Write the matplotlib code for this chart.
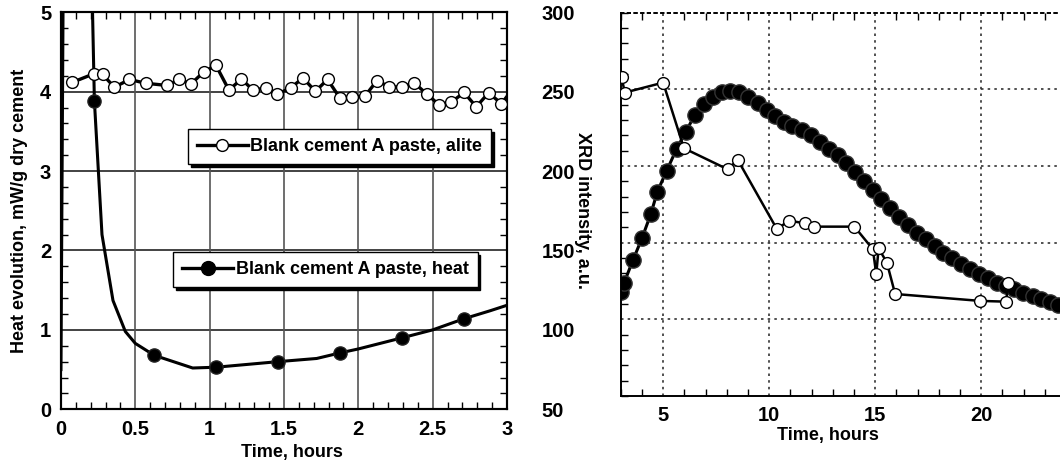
import matplotlib.pyplot as plt
from matplotlib.ticker import MultipleLocator, NullFormatter
from matplotlib.lines import Line2D

plt.rcParams['font.family'] = ['Liberation Sans', 'DejaVu Sans']
plt.rcParams['font.weight'] = 'bold'

# ---- left panel: first 3 hours ----
# heat evolution, mW/g (line points; markers only on some of them)
heat_t = [0.0, 0.02, 0.19, 0.225, 0.276, 0.35, 0.433, 0.5, 0.627, 0.886,
          1.044, 1.46, 1.72, 1.877, 2.0, 2.294, 2.5, 2.71, 2.885, 3.0]
heat_v = [0.5, 7.0, 7.0, 3.88, 2.2, 1.37, 0.98, 0.83, 0.68, 0.52,
          0.53, 0.60, 0.64, 0.71, 0.76, 0.90, 1.0, 1.14, 1.24, 1.31]
heat_marks = [3, 8, 10, 11, 13, 15, 17]

# alite XRD intensity, a.u.
alite_t = [0.074, 0.222, 0.28, 0.359, 0.461, 0.57, 0.715, 0.793, 0.876, 0.961,
           1.043, 1.13, 1.213, 1.293, 1.38, 1.456, 1.546, 1.628, 1.711, 1.793,
           1.876, 1.957, 2.043, 2.126, 2.209, 2.293, 2.376, 2.461, 2.543, 2.626,
           2.711, 2.793, 2.876, 2.963, 3.045]
alite_v = [255.8, 261.3, 260.9, 252.8, 257.7, 255.3, 253.9, 257.7, 255.0, 262.5,
           266.5, 251.0, 257.9, 251.0, 252.4, 248.5, 252.4, 258.7, 250.2, 257.7,
           246.0, 246.8, 247.0, 257.0, 253.0, 253.0, 255.5, 248.5, 241.7, 243.4,
           249.5, 240.5, 249.2, 242.5, 252.5]

# ---- right panel: 3 to 24 hours ----
heat2_t = [3.02, 3.15, 3.58, 4.0, 4.42, 4.73, 5.16, 5.63, 6.07, 6.5,
           6.94, 7.37, 7.76, 8.15, 8.58, 9.02, 9.46, 9.89, 10.28, 10.68,
           11.1, 11.55, 11.99, 12.41, 12.83, 13.23, 13.64, 14.06, 14.45, 14.89,
           15.28, 15.7, 16.13, 16.53, 16.95, 17.39, 17.81, 18.2, 18.64, 19.06,
           19.48, 19.89, 20.31, 20.73, 21.17, 21.56, 21.98, 22.42, 22.81, 23.23,
           23.64]
heat2_v = [1.36, 1.47, 1.774, 2.056, 2.374, 2.666, 2.934, 3.218, 3.448, 3.666,
           3.804, 3.904, 3.96, 3.982, 3.96, 3.904, 3.826, 3.73, 3.652, 3.578,
           3.52, 3.47, 3.404, 3.318, 3.22, 3.14, 3.04, 2.926, 2.808, 2.686,
           2.566, 2.448, 2.34, 2.23, 2.13, 2.044, 1.956, 1.87, 1.796, 1.722,
           1.652, 1.592, 1.534, 1.478, 1.434, 1.392, 1.348, 1.304, 1.266, 1.23,
           1.186]

alite2_t = [3.04, 3.19, 5.0, 5.98, 8.04, 8.52, 10.36, 10.95, 11.67, 12.13,
            14.02, 14.89, 15.05, 15.16, 15.55, 15.94, 19.95, 21.17, 21.28]
alite2_v = [257.8, 247.8, 254.3, 211.5, 197.8, 203.9, 158.9, 164.3, 162.6, 160.4,
            160.4, 145.7, 129.3, 146.3, 137.0, 116.5, 112.0, 111.5, 123.9]

label_heat = 'Blank cement A paste, heat'
label_alite = 'Blank cement A paste, alite'

fig = plt.figure(figsize=(10.6, 4.63), dpi=100)

# ================= left panel =================
ax = fig.add_axes([0.0575, 0.116, 0.4208, 0.8575])
axr = ax.twinx()

for y in [1, 2, 3, 4]:
    ax.axhline(y, color='#222222', lw=1.2, zorder=1)
for x in [0.5, 1, 1.5, 2, 2.5]:
    ax.axvline(x, color='#555555', lw=1.2, zorder=1)

ax.plot(heat_t, heat_v, color='black', lw=2.2, marker='o', ms=9.5,
        markevery=heat_marks, mfc='black', mec='#222222', zorder=3)
axr.plot(alite_t, alite_v, color='black', lw=2.4, marker='o', ms=8.5,
         mfc='white', mec='black', mew=1.0, zorder=3)

ax.set_xlim(0, 3)
ax.set_ylim(0, 5)
axr.set_ylim(50, 300)

ax.set_xticks([0, 0.5, 1, 1.5, 2, 2.5, 3])
ax.set_xticklabels(['0', '0.5', '1', '1.5', '2', '2.5', '3'])
ax.set_yticks([0, 1, 2, 3, 4, 5])
ax.xaxis.set_minor_locator(MultipleLocator(0.1))
ax.yaxis.set_minor_locator(MultipleLocator(0.2))
axr.set_yticks([50, 100, 150, 200, 250, 300])
axr.yaxis.set_minor_locator(MultipleLocator(10))

ax.tick_params(axis='both', which='both', direction='in', labelsize=14.5)
ax.tick_params(axis='x', which='both', top=True, pad=8)
ax.tick_params(axis='y', which='both', pad=7)
ax.tick_params(which='major', length=0)
ax.tick_params(which='minor', length=5, width=1)
axr.tick_params(axis='y', which='both', direction='in', labelsize=14.5, pad=25)
axr.tick_params(which='major', length=0)
axr.tick_params(which='minor', length=5, width=1)

for a in (ax, axr):
    for s in a.spines.values():
        s.set_linewidth(1.5)

ax.set_xlabel('Time, hours', fontsize=13, fontweight='bold')
ax.xaxis.set_label_coords(0.518, -0.108)
ax.xaxis.label.set_va('center')
ax.set_ylabel('Heat evolution, mW/g dry cement', fontsize=13, fontweight='bold')
ax.yaxis.set_label_coords(-0.092, 0.5)
ax.yaxis.label.set_va('center')
axr.set_ylabel('XRD intensity, a.u.', fontsize=13, fontweight='bold', rotation=270)
axr.yaxis.set_label_coords(1.17, 0.5)
axr.yaxis.label.set_va('center')

shadow = {'facecolor': 'black', 'edgecolor': 'black', 'alpha': 1}
h_alite = Line2D([], [], color='black', lw=2.4, marker='o', ms=8.5,
                 mfc='white', mec='black', mew=1.0)
h_heat = Line2D([], [], color='black', lw=2.4, marker='o', ms=10,
                mfc='black', mec='black')
leg1 = axr.legend([h_alite], [label_alite], loc='upper left',
                  bbox_to_anchor=(0.285, 0.706), borderaxespad=0,
                  fancybox=False, shadow=shadow, framealpha=1,
                  edgecolor='black', fontsize=13, handlelength=2.8,
                  handletextpad=0.15, borderpad=0.5, numpoints=1)
leg1.get_frame().set_linewidth(1.0)
axr.add_artist(leg1)
leg2 = axr.legend([h_heat], [label_heat], loc='upper left',
                  bbox_to_anchor=(0.252, 0.396), borderaxespad=0,
                  fancybox=False, shadow=shadow, framealpha=1,
                  edgecolor='black', fontsize=13, handlelength=2.8,
                  handletextpad=0.15, borderpad=0.5, numpoints=1)
leg2.get_frame().set_linewidth(1.0)
for leg in (leg1, leg2):
    for t in leg.get_texts():
        t.set_fontweight('bold')

# ================= right panel =================
bx = fig.add_axes([0.5856, 0.1447, 0.4201, 0.8283])
bxr = bx.twinx()

for y in [1, 2, 3, 4]:
    bx.axhline(y, color='#333333', lw=1.2, ls=(0, (1.5, 2.5)), zorder=1)
for x in [5, 10, 15, 20]:
    bx.axvline(x, color='#333333', lw=1.2, ls=(0, (1.5, 2.5)), zorder=1)

bx.plot(heat2_t, heat2_v, color='black', lw=2.2, marker='o', ms=11,
        mfc='black', mec='#333333', zorder=3)
bxr.plot(alite2_t, alite2_v, color='black', lw=1.8, marker='o', ms=8.5,
         mfc='white', mec='black', mew=1.0, zorder=4)

bx.set_xlim(3, 24)
bx.set_ylim(0, 5)
bxr.set_ylim(50, 300)
bx.set_xticks([5, 10, 15, 20])
bx.xaxis.set_minor_locator(MultipleLocator(1))
bx.set_yticks([1, 2, 3, 4])
bx.yaxis.set_major_formatter(NullFormatter())
bx.yaxis.set_minor_locator(MultipleLocator(0.2))
bxr.set_yticks([])

bx.tick_params(axis='both', which='both', direction='in', labelsize=14.5)
bx.tick_params(axis='x', which='both', top=True, pad=7)
bx.tick_params(which='major', length=0)
bx.tick_params(which='minor', length=5, width=1)

for a in (bx, bxr):
    a.spines['left'].set_linewidth(1.2)
    a.spines['bottom'].set_linewidth(1.2)
    a.spines['top'].set_linestyle((0, (1.5, 2.5)))
    a.spines['top'].set_linewidth(1.2)
    a.spines['right'].set_visible(False)

bx.set_xlabel('Time, hours', fontsize=13, fontweight='bold')
bx.xaxis.set_label_coords(0.4655, -0.102)
bx.xaxis.label.set_va('center')

plt.savefig('out.png', dpi=100)
